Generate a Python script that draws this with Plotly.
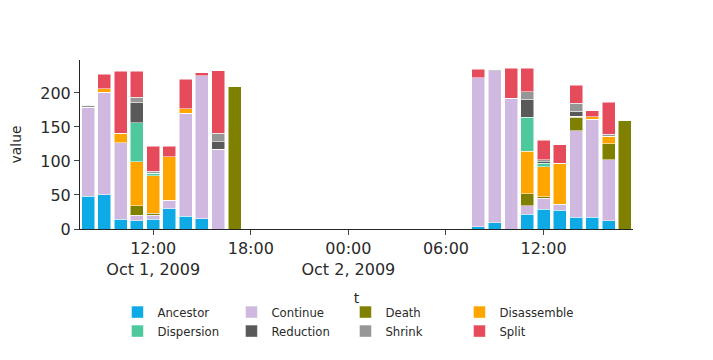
import plotly.graph_objects as go

# hourly time stamps, 10 bars on each day
t = ['2009-10-01 %02d:00' % h for h in range(8, 18)] + \
    ['2009-10-02 %02d:00' % h for h in range(8, 18)]

ancestor    = [48, 50.5, 14, 12, 14, 30, 18.5, 15, 0, 0,   3, 9, 0, 21.5, 29, 27.5, 17, 17, 12, 0]
continue_   = [131, 150.5, 113, 8, 6, 12, 151.5, 210, 117, 0,   219, 223.5, 192, 12.5, 16.5, 9, 127.5, 144, 90, 0]
death       = [0, 0, 0, 14, 3, 0, 0, 0, 0, 210,   0, 0, 0, 18, 2, 0, 19.5, 0, 23, 159]
disassemble = [0, 5.5, 14, 65, 55, 64, 7, 0, 0, 0,   0, 0, 0, 62, 44, 60, 2, 4, 11, 0]
dispersion  = [0, 0, 0, 57, 4, 0, 0, 0, 0, 0,   0, 0, 0, 50.5, 5, 0, 0, 0, 0, 0]
reduction   = [0, 0, 0, 30, 0, 0, 0, 0, 11.5, 0,   0, 0, 0, 26.5, 2, 0, 7, 0, 0, 0]
shrink      = [3, 0, 0, 8, 3, 0, 0, 0, 12, 0,   0, 1.5, 0, 11, 3, 0, 12, 0, 3, 0]
split       = [0, 21, 91, 38, 37, 16, 43, 5, 92, 0,   13, 0, 44, 34, 29, 27, 26.5, 9, 47, 0]

names = ['Ancestor', 'Continue', 'Death', 'Disassemble',
         'Dispersion', 'Reduction', 'Shrink', 'Split']
series = [ancestor, continue_, death, disassemble,
          dispersion, reduction, shrink, split]
colors = ['#0DAAE6', '#CFB9E0', '#808000', '#FFA500',
          '#4EC99E', '#595959', '#969696', '#E54B5B']

fig = go.Figure()
for name, vals, col in zip(names, series, colors):
    fig.add_trace(go.Bar(name=name, x=t, y=vals,
                         marker=dict(color=col, line=dict(color='white', width=0.5))))

# page body adds 8px offset, so margins are shifted to compensate
fig.update_layout(
    barmode='stack',
    template='simple_white',
    width=713, height=360,
    font=dict(family='DejaVu Sans, Verdana, sans-serif', size=12, color='#2a2a2a'),
    margin=dict(l=72, r=88, t=52, b=139),
    legend=dict(orientation='h', x=0.48, xanchor='center', y=-0.406, yanchor='top',
                traceorder='normal', entrywidth=69, font=dict(size=11.7)),
    xaxis=dict(title=dict(text='t', font=dict(size=14)), tickfont=dict(size=16),
               range=['2009-10-01 07:30', '2009-10-02 17:30'], automargin=False),
    yaxis=dict(title=dict(text='value', font=dict(size=14), standoff=28),
               tickfont=dict(size=16), automargin=False),
)

fig.write_html("out.html")
